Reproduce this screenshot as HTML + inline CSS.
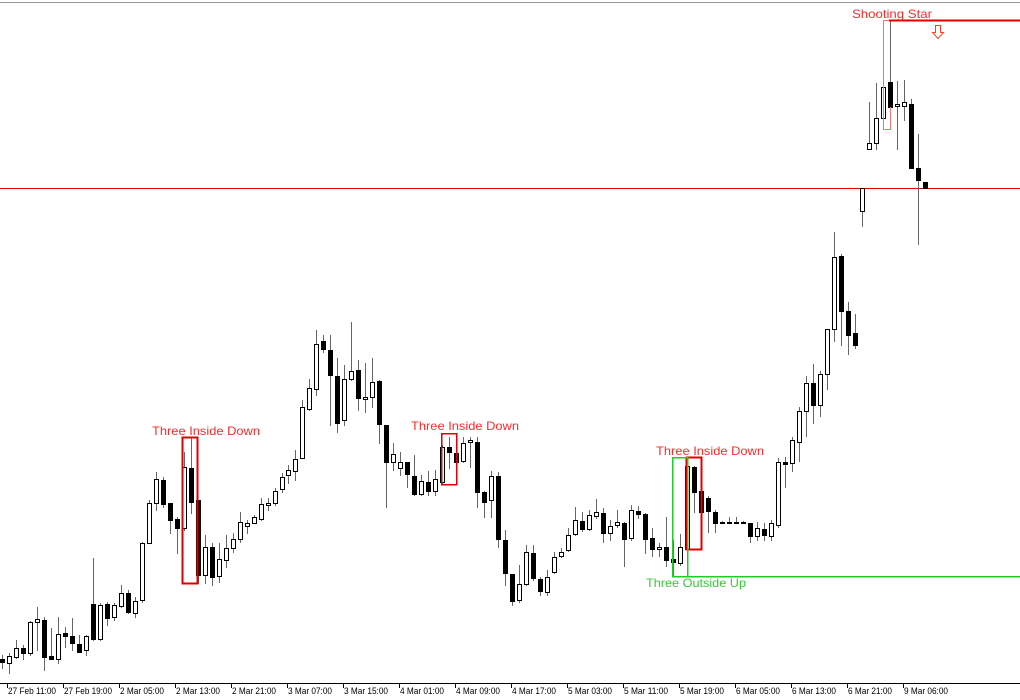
<!DOCTYPE html>
<html><head><meta charset="utf-8">
<style>
html,body{margin:0;padding:0;background:#fff;}
svg{display:block;}
text{font-family:"Liberation Sans",sans-serif;}
</style></head>
<body>
<svg id="c" width="1020" height="700" xmlns="http://www.w3.org/2000/svg" shape-rendering="crispEdges">
<rect x="0" y="0" width="1020" height="700" fill="#fff"/>
<line x1="0" y1="2.5" x2="1020" y2="2.5" stroke="#999"/>
<line x1="0" y1="683.5" x2="1020" y2="683.5" stroke="#000"/>
<line x1="0" y1="188.5" x2="1020" y2="188.5" stroke="#e00000"/>
<g id="cs"></g>
<rect x="182.5" y="437.5" width="15" height="146" fill="none" stroke="#e00000" stroke-width="2"/>
<rect x="441.5" y="433.5" width="15" height="51" fill="none" stroke="#e00000" stroke-width="1.5"/>
<rect x="686.5" y="457.5" width="15" height="92" fill="none" stroke="#e00000" stroke-width="2"/>
<polyline points="687.5,457.5 672.5,457.5 672.5,576.5 1020,576.5" fill="none" stroke="#22cc22" stroke-width="1.5"/>
<line x1="687.5" y1="457" x2="687.5" y2="577" stroke="#22cc22" stroke-width="1.5"/>
<polyline points="890.5,129.5 883.5,129.5 883.5,20.5 890,20.5" fill="none" stroke="#ff7070" stroke-width="1.2"/>
<line x1="890.5" y1="107" x2="890.5" y2="130" stroke="#ff7070" stroke-width="1.2"/>
<line x1="889" y1="20.5" x2="1020" y2="20.5" stroke="#e00000" stroke-width="2"/>
<path d="M935.5 25.5 h5 v7 h3 l-5.5 6 l-5.5 -6 h3 z" fill="#fff" stroke="#ff4020" stroke-width="1" shape-rendering="auto"/>
<g font-size="12" fill="#ff2a2a">
<text x="152" y="435" textLength="108" lengthAdjust="spacingAndGlyphs">Three Inside Down</text>
<text x="411" y="430" textLength="108" lengthAdjust="spacingAndGlyphs">Three Inside Down</text>
<text x="656" y="455" textLength="108" lengthAdjust="spacingAndGlyphs">Three Inside Down</text>
<text x="852" y="18" textLength="80" lengthAdjust="spacingAndGlyphs">Shooting Star</text>
</g>
<text x="646" y="587" font-size="12" fill="#33cc33" textLength="100" lengthAdjust="spacingAndGlyphs">Three Outside Up</text>
<g id="ax" font-size="9" fill="#000"></g>
</svg>
<script>
var d=[[655,668,659,662,'b'],[653,673,656,663,'w'],[640,658,648,657,'w'],[645,659,648,653,'b'],[621,655,622,653,'w'],[607,650,619,622,'w'],[617,670,620,657,'b'],[628,659,656,659,'b'],[617,663,634,659,'w'],[627,647,633,636,'b'],[618,650,636,643,'b'],[635,652,644,652,'b'],[635,655,636,650,'w'],[558,640,604,639,'b'],[603,640,605,639,'w'],[602,625,604,618,'b'],[603,620,605,617,'w'],[585,607,593,606,'w'],[590,613,593,612,'b'],[597,617,601,613,'w'],[542,602,543,600,'w'],[500,543,503,543,'w'],[472,510,479,503,'w'],[477,507,480,504,'b'],[503,533,503,520,'b'],[517,553,519,528,'b'],[452,530,467,528,'w'],[438,513,468,502,'b'],[500,583,500,575,'b'],[535,583,547,575,'w'],[543,585,547,577,'b'],[543,582,559,576,'w'],[535,567,548,560,'w'],[533,552,539,548,'w'],[512,542,522,539,'w'],[520,533,523,526,'w'],[515,523,517,523,'w'],[498,520,504,519,'w'],[498,510,503,505,'w'],[488,505,491,503,'w'],[473,492,477,489,'w'],[465,483,470,475,'w'],[450,480,459,471,'w'],[400,458,407,458,'w'],[379,410,388,409,'w'],[330,395,344,389,'w'],[335,352,341,349,'b'],[335,425,350,375,'b'],[358,432,376,423,'b'],[365,425,379,420,'w'],[322,380,371,379,'w'],[360,410,370,398,'b'],[363,412,397,399,'w'],[358,407,382,397,'w'],[380,443,381,424,'b'],[425,507,425,462,'b'],[443,470,454,462,'w'],[452,475,462,468,'w'],[462,487,462,474,'b'],[455,495,476,494,'b'],[475,495,481,494,'w'],[471,495,482,491,'b'],[470,495,479,491,'w'],[445,483,447,482,'w'],[437,468,447,452,'b'],[452,473,453,462,'b'],[437,462,443,461,'w'],[437,467,440,442,'w'],[437,507,442,492,'b'],[491,517,492,502,'b'],[471,517,476,500,'w'],[472,547,476,539,'b'],[530,585,540,573,'b'],[574,605,574,601,'b'],[565,602,584,600,'w'],[545,585,552,584,'w'],[545,580,553,578,'b'],[577,595,579,591,'b'],[570,595,577,592,'w'],[552,573,557,572,'w'],[548,557,552,556,'w'],[528,551,535,550,'w'],[507,535,520,534,'w'],[512,531,521,529,'b'],[510,530,515,529,'w'],[499,518,512,516,'w'],[508,542,513,533,'b'],[520,540,526,533,'w'],[510,527,522,525,'w'],[522,566,523,539,'b'],[505,540,510,538,'w'],[506,518,511,514,'b'],[513,553,514,539,'b'],[528,556,538,549,'b'],[543,556,547,549,'w'],[517,566,547,560,'b'],[540,575,559,562,'b'],[534,565,547,563,'w'],[458,550,466,549,'w'],[466,512,467,492,'b'],[490,532,491,512,'b'],[496,532,498,511,'b'],[510,532,512,523,'b'],[521,523,522,523,'b'],[517,523,522,523,'b'],[517,523,522,523,'b'],[521,523,522,523,'b'],[523,542,523,536,'b'],[522,540,528,536,'w'],[523,540,529,535,'b'],[520,540,523,536,'w'],[458,527,462,525,'w'],[457,487,462,464,'b'],[437,471,440,463,'w'],[407,461,411,442,'w'],[376,436,383,411,'w'],[364,423,383,405,'b'],[371,416,374,405,'w'],[329,389,329,374,'w'],[232,341,257,329,'w'],[254,345,256,311,'b'],[302,354,311,335,'b'],[314,348,333,345,'b'],[188,226,188,211,'w'],[102,149,143,149,'w'],[83,149,118,143,'w'],[71,120,87,118,'w'],[21,107,82,107,'b'],[81,149,104,106,'w'],[80,120,102,106,'w'],[99,168,104,168,'b'],[134,244,168,180,'b'],[182,188,182,188,'b']];
var s='';
for(var i=0;i<d.length;i++){
 var c=d[i],cx=Math.round(1.7+6.995*i);
 s+='<line x1="'+(cx+0.5)+'" y1="'+c[0]+'" x2="'+(cx+0.5)+'" y2="'+(c[1]+1)+'" stroke="#666"/>';
 var h=Math.max(c[3]-c[2],1);
 if(c[2]==c[3]){s+='<line x1="'+(cx-2)+'" y1="'+(c[2]+0.5)+'" x2="'+(cx+3)+'" y2="'+(c[2]+0.5)+'" stroke="#000"/>';}
 else s+='<rect x="'+(cx-1.5)+'" y="'+(c[2]+0.5)+'" width="4" height="'+h+'" fill="'+(c[4]=='b'?'#000':'#fff')+'" stroke="#000"/>';
}
document.getElementById('cs').innerHTML=s;
var L=["27 Feb 11:00","27 Feb 19:00","2 Mar 05:00","2 Mar 13:00","2 Mar 21:00","3 Mar 07:00","3 Mar 15:00","4 Mar 01:00","4 Mar 09:00","4 Mar 17:00","5 Mar 03:00","5 Mar 11:00","5 Mar 19:00","6 Mar 05:00","6 Mar 13:00","6 Mar 21:00","9 Mar 06:00"];
var a='';
for(var j=0;j<L.length;j++){var x=7+56*j;
 a+='<line x1="'+(x+0.5)+'" y1="684" x2="'+(x+0.5)+'" y2="688" stroke="#000"/>';
 var tl=L[j].length==12?48:44;
 a+='<text x="'+(x+1)+'" y="694" textLength="'+tl+'" lengthAdjust="spacingAndGlyphs">'+L[j]+'</text>';}
document.getElementById('ax').innerHTML=a;
</script>
</body></html>
